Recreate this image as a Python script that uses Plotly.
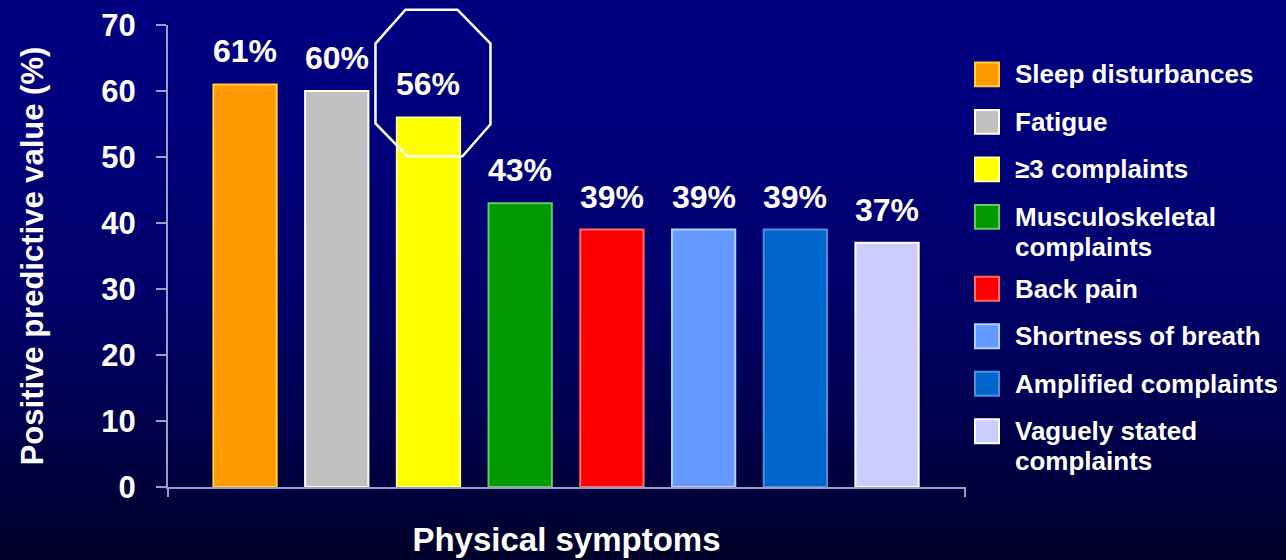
import plotly.graph_objects as go

# Positive predictive value of each physical symptom (%)
symptoms = [
    "Sleep disturbances",
    "Fatigue",
    "≥3 complaints",
    "Musculoskeletal<br>complaints",
    "Back pain",
    "Shortness of breath",
    "Amplified complaints",
    "Vaguely stated<br>complaints",
]
ppv = [61, 60, 56, 43, 39, 39, 39, 37]
value_labels = ["61%", "60%", "56%", "43%", "39%", "39%", "39%", "37%"]
bar_colors = ["#ff9900", "#c0c0c0", "#ffff00", "#009900",
              "#ff0000", "#6699ff", "#0066cc", "#ccccff"]
edge_colors = ["#ffd23c", "#ffffff", "#ffff9a", "#66cc66",
               "#ff6a6a", "#a8d4ff", "#4f8fe0", "#ffffff"]
y_ticks = [0, 10, 20, 30, 40, 50, 60, 70]
highlight_index = 2  # the bar circled with an octagon

# Page / plot-area geometry (pixels)
W, H = 1286, 560
ML, MR, MT, MB = 168, 321, 24.5, 72.5
PW, PH = W - ML - MR, H - MT - MB
X_MIN, X_MAX = -0.84, 7.85
Y_MIN, Y_MAX = 0, 70

FONT = "Liberation Sans, Arial, sans-serif"
AXIS_GREY = "#9c9cc4"


def px_to_paper_x(px):
    return (px - ML) / PW


def px_to_paper_y(py):
    return (H - MB - py) / PH


def data_to_px_x(x):
    return ML + (x - X_MIN) / (X_MAX - X_MIN) * PW


def data_to_px_y(y):
    return H - MB - (y - Y_MIN) / (Y_MAX - Y_MIN) * PH


positions = list(range(len(symptoms)))

fig = go.Figure()
fig.add_trace(go.Bar(
    x=positions,
    y=ppv,
    width=0.69,
    marker=dict(color=bar_colors, line=dict(color=edge_colors, width=2)),
    hovertext=[s.replace("<br>", " ") for s in symptoms],
    hoverinfo="text+y",
    showlegend=False,
))

shapes = []
annotations = []

# Vertical navy gradient behind everything
band = 4
for py in range(0, H, band):
    t = (py + band / 2) / H
    b = int(round(128 - 88 * t * t))
    shapes.append(dict(
        type="rect", xref="paper", yref="paper", layer="below",
        x0=px_to_paper_x(-2), x1=px_to_paper_x(W + 2),
        y0=px_to_paper_y(py + band + 0.6), y1=px_to_paper_y(py),
        fillcolor=f"rgb(0,0,{b})", line=dict(width=0),
    ))

# Value labels above bars
for i, (v, lab) in enumerate(zip(ppv, value_labels)):
    annotations.append(dict(
        x=i, y=v, xref="x", yref="y", text=lab, showarrow=False,
        yanchor="bottom", xanchor="center", yshift=13,
        font=dict(family=FONT, size=32, color="white", weight="bold"),
    ))

# Octagon around the highlighted bar's label
cx = data_to_px_x(highlight_index) + 3
top = data_to_px_y(ppv[highlight_index])
octagon_offsets = [(-26, -108), (26, -108), (59, -74), (59, 7),
                   (31, 39), (-24, 39), (-56, 6), (-56, -74)]
path = ""
for k, (dx, dy) in enumerate(octagon_offsets):
    cmd = "M" if k == 0 else "L"
    path += f"{cmd}{px_to_paper_x(cx + dx)},{px_to_paper_y(top + dy)} "
path += "Z"
shapes.append(dict(type="path", xref="paper", yref="paper", path=path,
                   line=dict(color="white", width=2.5), layer="above"))

# Tick marks at both ends of the category axis
for xv in (X_MIN, X_MAX):
    px = data_to_px_x(xv)
    shapes.append(dict(type="line", xref="paper", yref="paper",
                       x0=px_to_paper_x(px), x1=px_to_paper_x(px),
                       y0=px_to_paper_y(H - MB), y1=px_to_paper_y(H - MB + 10),
                       line=dict(color=AXIS_GREY, width=2)))

# Legend: colour swatches with labels on the right
row_y = 74
for name, col, edge in zip(symptoms, bar_colors, edge_colors):
    lines = name.split("<br>")
    shapes.append(dict(
        type="rect", xref="paper", yref="paper",
        x0=px_to_paper_x(975), x1=px_to_paper_x(999),
        y0=px_to_paper_y(row_y + 12), y1=px_to_paper_y(row_y - 12),
        fillcolor=col, line=dict(color=edge if edge != col else "#dddddd", width=2),
    ))
    for j, line_text in enumerate(lines):
        annotations.append(dict(
            x=px_to_paper_x(1013), y=px_to_paper_y(row_y + 30 * j),
            xref="paper", yref="paper", text=line_text, showarrow=False,
            xanchor="left", yanchor="middle",
            font=dict(family=FONT, size=26, color="white", weight="bold"),
        ))
    row_y += 47.6 + 24.5 * (len(lines) - 1)

fig.update_layout(
    width=W, height=H,
    margin=dict(l=ML, r=MR, t=MT, b=MB, pad=0, autoexpand=False),
    paper_bgcolor="#000060",
    plot_bgcolor="rgba(0,0,0,0)",
    shapes=shapes,
    annotations=annotations,
    bargap=0.3,
    xaxis=dict(
        range=[X_MIN, X_MAX], showgrid=False, zeroline=False, automargin=False,
        showline=True, linecolor=AXIS_GREY, linewidth=2,
        showticklabels=False, ticks="", fixedrange=True,
        title=dict(text="Physical symptoms", standoff=40,
                   font=dict(family=FONT, size=33, color="white", weight="bold")),
    ),
    yaxis=dict(
        range=[Y_MIN, Y_MAX], tickvals=y_ticks, showgrid=False, zeroline=False,
        automargin=False,
        showline=True, linecolor=AXIS_GREY, linewidth=2,
        ticks="outside", ticklen=10, tickwidth=2, tickcolor=AXIS_GREY,
        ticklabelstandoff=14, fixedrange=True,
        tickfont=dict(family=FONT, size=31, color="white", weight="bold"),
        title=dict(text="Positive predictive value (%)", standoff=48,
                   font=dict(family=FONT, size=31, color="white", weight="bold")),
    ),
    font=dict(family=FONT, color="white"),
)

fig.write_html("out.html")
